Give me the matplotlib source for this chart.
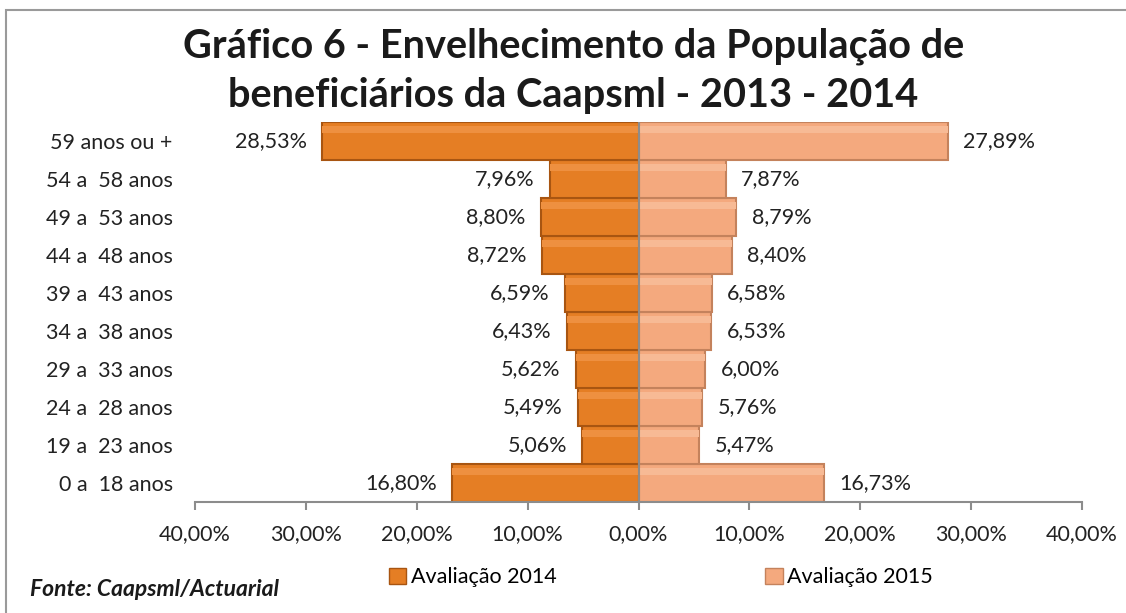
import matplotlib
matplotlib.use("Agg")
import matplotlib.pyplot as plt
from matplotlib.patches import Rectangle, Patch

categories = ["0 a  18 anos", "19 a  23 anos", "24 a  28 anos", "29 a  33 anos",
              "34 a  38 anos", "39 a  43 anos", "44 a  48 anos", "49 a  53 anos",
              "54 a  58 anos", "59 anos ou +"]
aval_2014 = [16.80, 5.06, 5.49, 5.62, 6.43, 6.59, 8.72, 8.80, 7.96, 28.53]
aval_2015 = [16.73, 5.47, 5.76, 6.00, 6.53, 6.58, 8.40, 8.79, 7.87, 27.89]
xticks = [-40, -30, -20, -10, 0, 10, 20, 30, 40]

FONT = "Lato"
FS = 15.5
c14, e14 = "#E57E24", "#A85511"
c15, e15 = "#F4A97E", "#C4825C"


def pct(v):
    return "{:.2f}%".format(v).replace(".", ",")


fig = plt.figure(figsize=(11.26, 6.13), dpi=100)
ax = fig.add_axes([0.1732, 0.181, 0.7878, 0.620])

y = list(range(len(categories)))
left = [-v for v in aval_2014]
ax.barh(y, left, height=1.0, color=c14, edgecolor=e14, linewidth=1.5)
ax.barh(y, aval_2015, height=1.0, color=c15, edgecolor=e15, linewidth=1.5)
# simple bevel highlight
ax.barh([i + 0.3 for i in y], left, height=0.2, color="#EE9040", linewidth=0)
ax.barh([i + 0.3 for i in y], aval_2015, height=0.2, color="#F7BA95", linewidth=0)

for i in y:
    ax.text(left[i] - 1.4, i, pct(aval_2014[i]), ha="right", va="center",
            fontsize=FS, family=FONT, color="#222222")
    ax.text(aval_2015[i] + 1.4, i, pct(aval_2015[i]), ha="left", va="center",
            fontsize=FS, family=FONT, color="#222222")

ax.axvline(0, color="#8C8C8C", linewidth=1.5)
ax.set_xlim(-40, 40)
ax.set_ylim(-0.5, len(categories) - 0.5)
ax.set_xticks(xticks)
ax.set_xticklabels([pct(abs(t)) for t in xticks], fontsize=FS, family=FONT, color="#222222")
ax.set_yticks(y)
ax.set_yticklabels(categories, fontsize=FS, family=FONT, color="#222222")
ax.tick_params(axis="y", length=0, pad=16)
ax.tick_params(axis="x", length=6, color="#8C8C8C", width=1.5, pad=10)
for s in ["top", "right", "left"]:
    ax.spines[s].set_visible(False)
ax.spines["bottom"].set_color("#8C8C8C")
ax.spines["bottom"].set_linewidth(1.5)

fig.text(0.509, 0.925, "Gráfico 6 - Envelhecimento da População de",
         ha="center", va="center", fontsize=28.6, fontweight="bold", family=FONT, color="#1a1a1a")
fig.text(0.509, 0.845, "beneficiários da Caapsml - 2013 - 2014",
         ha="center", va="center", fontsize=28.6, fontweight="bold", family=FONT, color="#1a1a1a")
fig.text(0.027, 0.038, "Fonte: Caapsml/Actuarial", ha="left", va="center",
         fontsize=16.5, fontweight="bold", style="italic", family=FONT, color="#1a1a1a")

handles = [Patch(facecolor=c14, edgecolor=e14), Patch(facecolor=c15, edgecolor=e15)]
fig.legend(handles, ["Avaliação 2014", "Avaliação 2015"], loc="center",
           bbox_to_anchor=(0.587, 0.058), ncol=2, frameon=False, columnspacing=9.7,
           handlelength=0.8, handleheight=0.8, handletextpad=0.2,
           prop={"family": FONT, "size": FS})

fig.patches.append(Rectangle((0.005, -0.1), 1.2, 1.083, transform=fig.transFigure,
                             fill=False, edgecolor="#9A9A9A", linewidth=1.5))

fig.savefig("out.png", dpi=100)
